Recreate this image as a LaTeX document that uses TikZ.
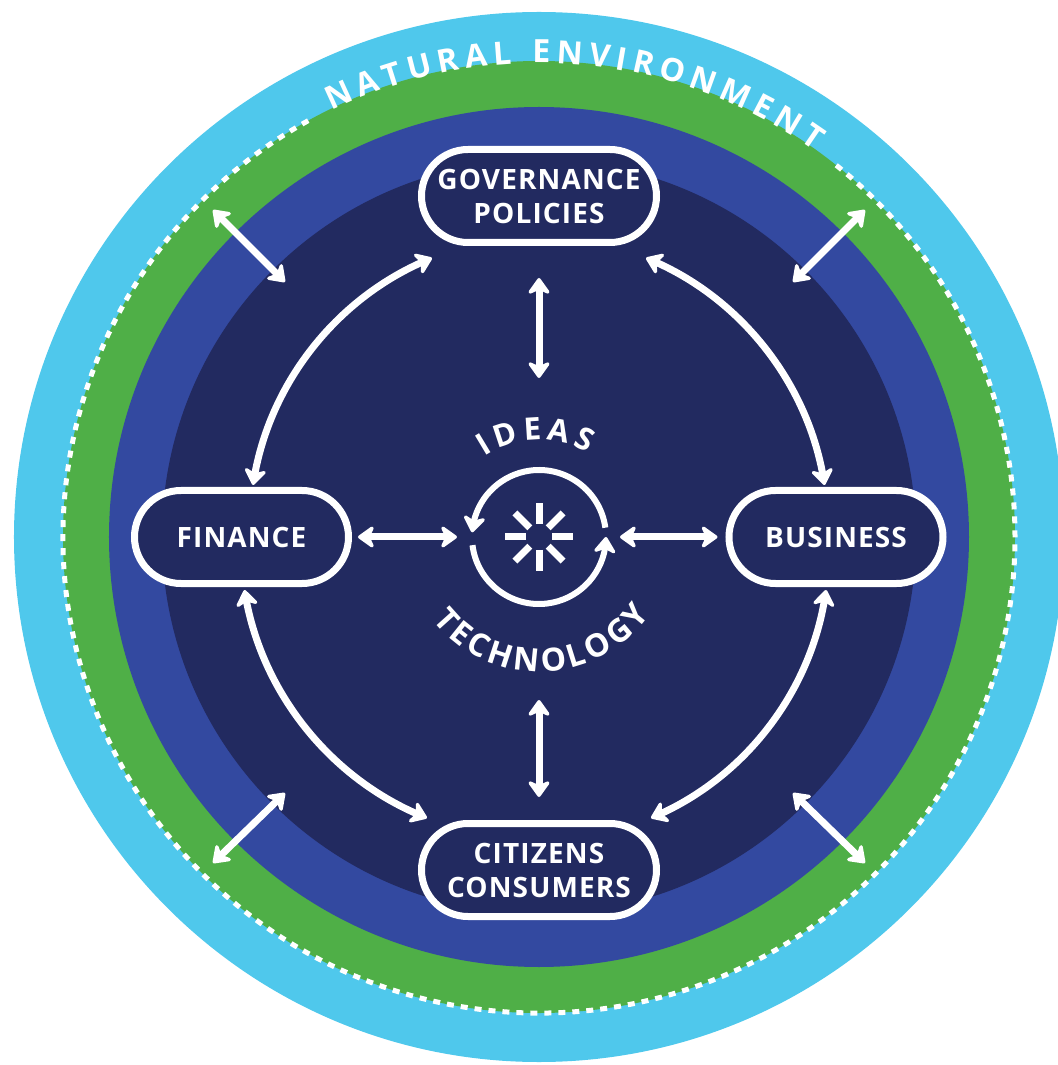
\documentclass[tikz,border=0pt]{standalone}
\usepackage{fontspec}
\usetikzlibrary{arrows.meta,bending,decorations.text,shapes.misc}
\setmainfont{Open Sans}
\newfontfamily\labelfont[LetterSpace=4]{Open Sans}
\definecolor{skyring}{HTML}{4FC8EC}
\definecolor{greenring}{HTML}{4FAF47}
\definecolor{bluering}{HTML}{3349A0}
\definecolor{navydisc}{HTML}{222A60}
\begin{document}
\begin{tikzpicture}[x=1pt, y=1pt,
    actor/.style={rounded rectangle, draw=white, fill=navydisc, line width=7pt, text=white,
      minimum height=93pt, inner sep=0pt, align=center,
      font=\labelfont\bfseries\fontsize{28}{34}\selectfont},
    link/.style={white, line width=7pt, {Stealth[length=19pt,width=27pt,inset=6pt,line width=4pt,round]}-{Stealth[length=19pt,width=27pt,inset=6pt,line width=4pt,round]}},
    turn/.style={white, line width=6pt, -{Stealth[length=19pt,width=27pt,inset=6pt,line width=4pt,round,flex]}},
    spoke/.style={draw=white, line width=7pt},
    ringtext/.style={decorate, decoration={text along path, text align={fit to path}, text color=white, text={#1}}}]
  \useasboundingbox (-539,-528) rectangle (518,537);
  \fill[skyring] (0,0) circle (525);
  \fill[greenring] (0,0) circle (476);
  \fill[bluering] (0,0) circle (430);
  \fill[navydisc] (0,0) circle (377);
  \draw[white, line width=5pt, dash pattern=on 7pt off 7pt] (119:476) arc[start angle=119, end angle=411.5, radius=476];
  \path[ringtext={|\bfseries\fontsize{32}{32}\selectfont|NATURAL ENVIRONMENT}] (116:474) arc[start angle=116, end angle=54.5, radius=474];
  \path[ringtext={|\bfseries\fontsize{31}{31}\selectfont|IDEAS}] (124:97) arc[start angle=124, end angle=60, radius=97];
  \path[ringtext={|\bfseries\fontsize{32}{32}\selectfont|TECHNOLOGY}] (218:135) arc[start angle=218, end angle=325, radius=135];
  \node[actor, minimum width=235pt] (gov) at (0,341) {GOVERNANCE\\POLICIES};
  \node[actor, minimum width=214pt] (fin) at (-297.5,0) {FINANCE};
  \node[actor, minimum width=214pt] (bus) at (297,0) {BUSINESS};
  \node[actor, minimum width=235pt] (cit) at (0,-333) {CITIZENS\\CONSUMERS};
  \coordinate (core) at (0,0);
  \draw[link] ([shift={(-107,-62)}]gov.center) to[bend right=30, looseness=.9] ([shift={(11.5,52)}]fin.center);
  \draw[link] ([shift={(107,-62)}]gov.center) to[bend left=30, looseness=.9] ([shift={(-11.5,52)}]bus.center);
  \draw[link] ([shift={(3,-53)}]fin.center) to[bend right=30, looseness=.9] ([shift={(-112,52)}]cit.center);
  \draw[link] ([shift={(-10,-53)}]bus.center) to[bend left=30, looseness=.9] ([shift={(112,52)}]cit.center);
  \draw[link] ([yshift=-32pt]gov.south) -- ([yshift=159pt]core);
  \draw[link] ([yshift=23pt]cit.north) -- ([yshift=-163pt]core);
  \draw[link] ([xshift=6pt]fin.east) -- ([xshift=-82pt]core);
  \draw[link] ([xshift=-8pt]bus.west) -- ([xshift=81pt]core);
  \draw[turn] (8:67) arc[start angle=8, end angle=176, radius=67];
  \draw[turn] (187:67) arc[start angle=187, end angle=360, radius=67];
  \foreach \a in {0,45,...,315}
    \draw[spoke] (\a:13) -- (\a:34);
  \coordinate (nwout) at (-326,327);
  \coordinate (nwin) at (-254,255);
  \coordinate (neout) at (326,327);
  \coordinate (nein) at (254,255);
  \coordinate (swout) at (-326,-326);
  \coordinate (swin) at (-254,-256);
  \coordinate (seout) at (326,-326);
  \coordinate (sein) at (254,-256);
  \draw[link] (nwout) -- (nwin);
  \draw[link] (neout) -- (nein);
  \draw[link] (swout) -- (swin);
  \draw[link] (seout) -- (sein);
\end{tikzpicture}
\end{document}
